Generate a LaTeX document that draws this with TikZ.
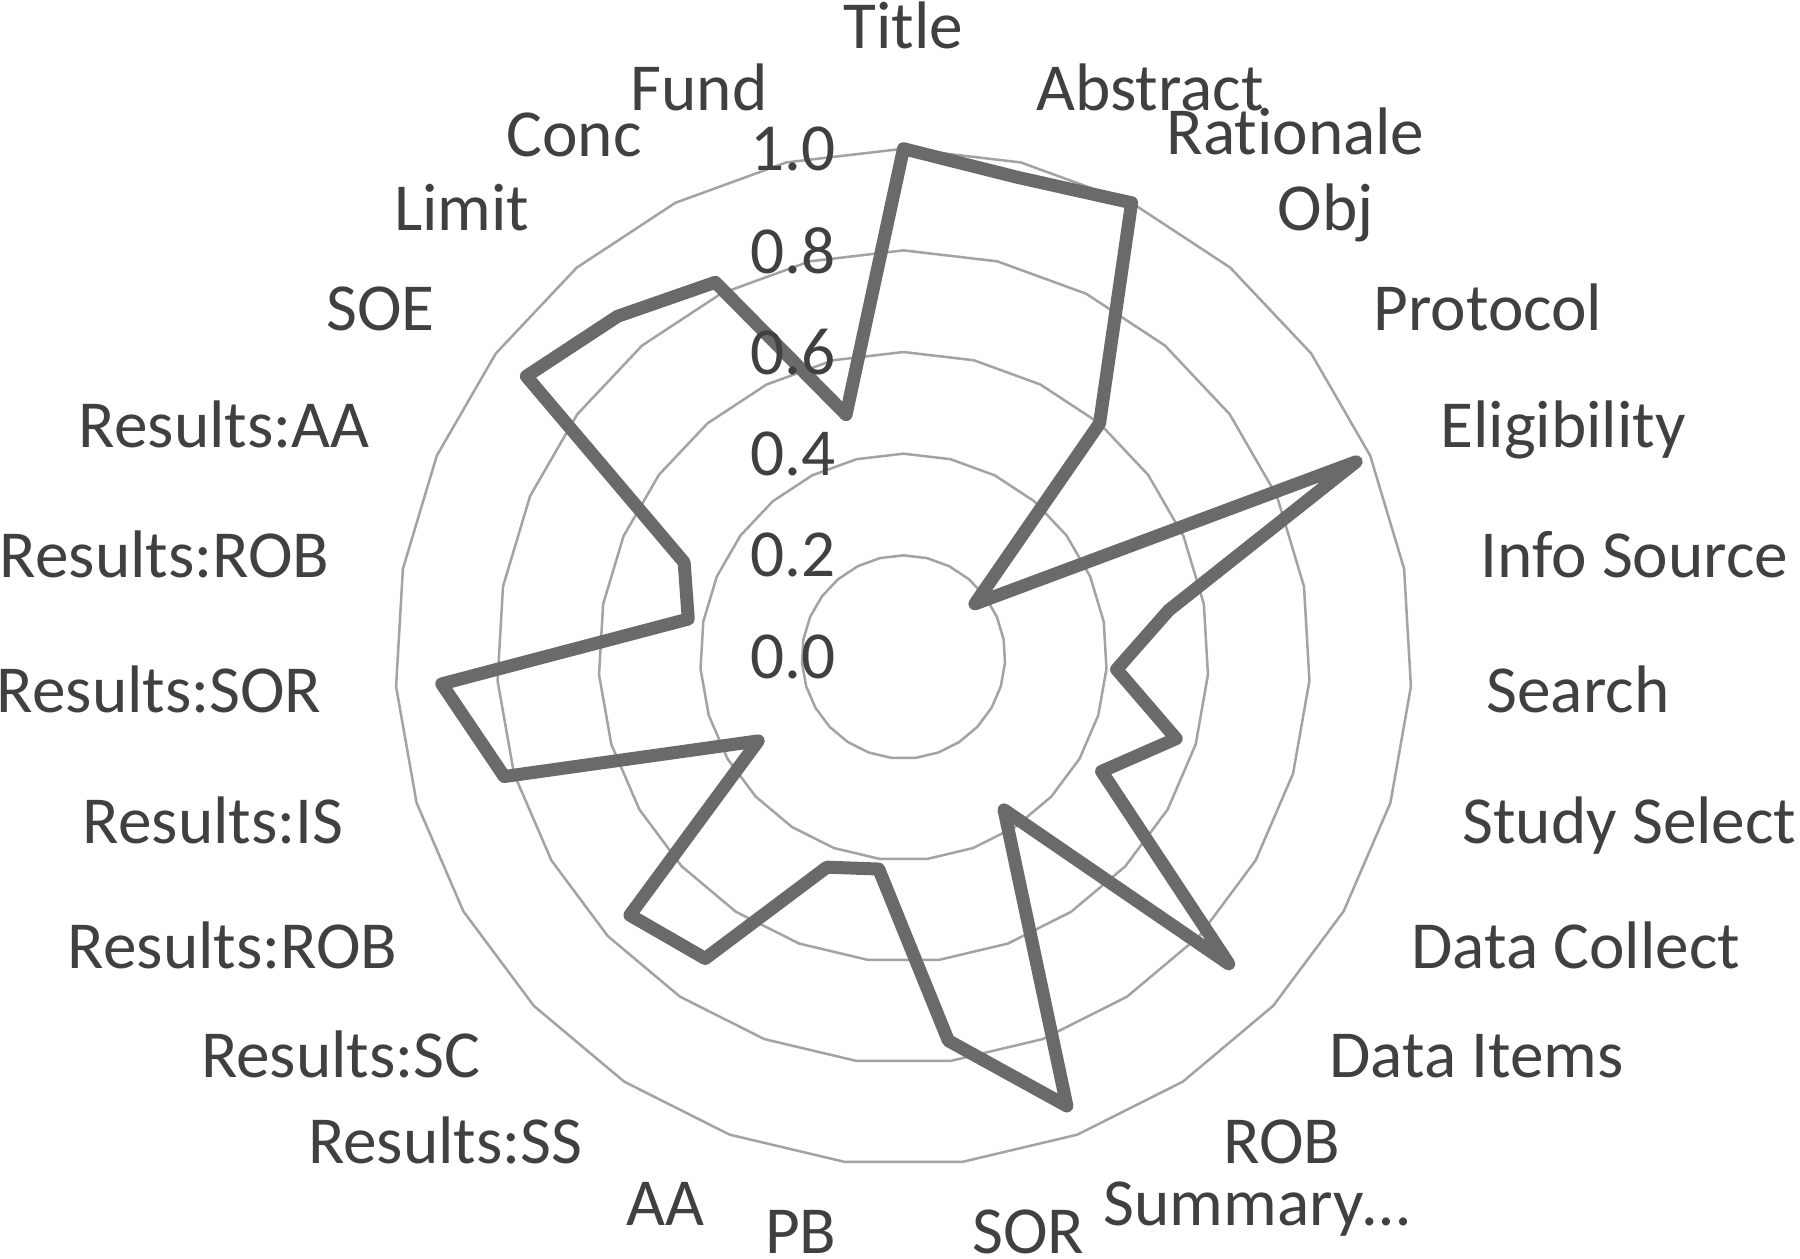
\documentclass[tikz,border=0pt]{standalone}
\usepackage{fontspec}
\setmainfont{Carlito}[Ligatures={NoCommon}]
\definecolor{txt}{HTML}{404040}
\definecolor{ser}{HTML}{6A6A6A}
\definecolor{grd}{HTML}{A3A3A3}
\tikzset{
  gridline/.style={draw=grd, line width=1pt},
  seriesline/.style={draw=ser, line width=5.2pt, line join=round, line cap=round},
  lbl/.style={font=\fontsize{26.9}{30}\selectfont, text=txt, inner sep=0pt},
}
\begin{document}
\begin{tikzpicture}[x=0.4pt,y=-0.4pt]
\useasboundingbox (0,0) rectangle (1800,1259);
\fill[white] (0,0) rectangle (1800,1259);
\coordinate (C) at (903.5,657);
\begin{scope}[shift={(903.5,657)}]
  % grid rings
  \foreach \i in {1,...,5}{
    \draw[gridline] (-90:\i*101.66) \foreach \k in {1,...,26}{ -- (-90+\k*360/27:\i*101.66)} -- cycle;
  }
  % data vertices
  \foreach \k/\v in {0/1.0,1/0.97,2/1.0,3/0.6,4/0.175,5/0.97,6/0.53,7/0.42,8/0.56,9/0.45,10/0.88,11/0.36,12/0.94,13/0.76,14/0.42,15/0.44,16/0.71,17/0.74,18/0.33,19/0.82,20/0.91,21/0.43,22/0.47,23/0.925,24/0.875,25/0.825,26/0.49}{
    \coordinate (p\k) at (-90+\k*360/27:\v*508.3);
  }
  \draw[seriesline] (p0) \foreach \k in {1,...,26}{ -- (p\k)} -- cycle;
\end{scope}
% value axis labels
\foreach \i/\t in {0/0.0,1/0.2,2/0.4,3/0.6,4/0.8,5/1.0}{
  \node[lbl, anchor=east] (v\i) at (836, 657-\i*101.66) {\t};
}
% category labels
\node[lbl, anchor=base] (l0) at (903.5,49) {Title};
\node[lbl, anchor=base west] (l1) at (1036,110) {Abstract};
\node[lbl, anchor=base west] (l2) at (1166,155) {Rationale};
\node[lbl, anchor=base west] (l3) at (1277,230) {Obj};
\node[lbl, anchor=base west] (l4) at (1373,330) {Protocol};
\node[lbl, anchor=base west] (l5) at (1440,447) {Eligibility};
\node[lbl, anchor=base west] (l6) at (1480,577) {Info Source};
\node[lbl, anchor=base west] (l7) at (1486,712) {Search};
\node[lbl, anchor=base west] (l8) at (1462,843) {Study Select};
\node[lbl, anchor=base west] (l9) at (1411,968) {Data Collect};
\node[lbl, anchor=base west] (l10) at (1329,1077) {Data Items};
\node[lbl, anchor=base west] (l11) at (1223,1163) {ROB};
\node[lbl, anchor=base west] (l12) at (1103,1225) {Summary…};
\node[lbl, anchor=base west] (l13) at (972,1253) {SOR};
\node[lbl, anchor=base east] (l14) at (837,1253) {PB};
\node[lbl, anchor=base east] (l15) at (705,1225) {AA};
\node[lbl, anchor=base east] (l16) at (583,1163) {Results:SS};
\node[lbl, anchor=base east] (l17) at (481,1077) {Results:SC};
\node[lbl, anchor=base east] (l18) at (398,968) {Results:ROB};
\node[lbl, anchor=base east] (l19) at (344,843) {Results:IS};
\node[lbl, anchor=base east] (l20) at (322,712) {Results:SOR};
\node[lbl, anchor=base east] (l21) at (330,577) {Results:ROB};
\node[lbl, anchor=base east] (l22) at (370,447) {Results:AA};
\node[lbl, anchor=base east] (l23) at (435,330) {SOE};
\node[lbl, anchor=base east] (l24) at (530,230) {Limit};
\node[lbl, anchor=base east] (l25) at (642,156) {Conc};
\node[lbl, anchor=base east] (l26) at (768,110) {Fund};
\end{tikzpicture}
\end{document}
